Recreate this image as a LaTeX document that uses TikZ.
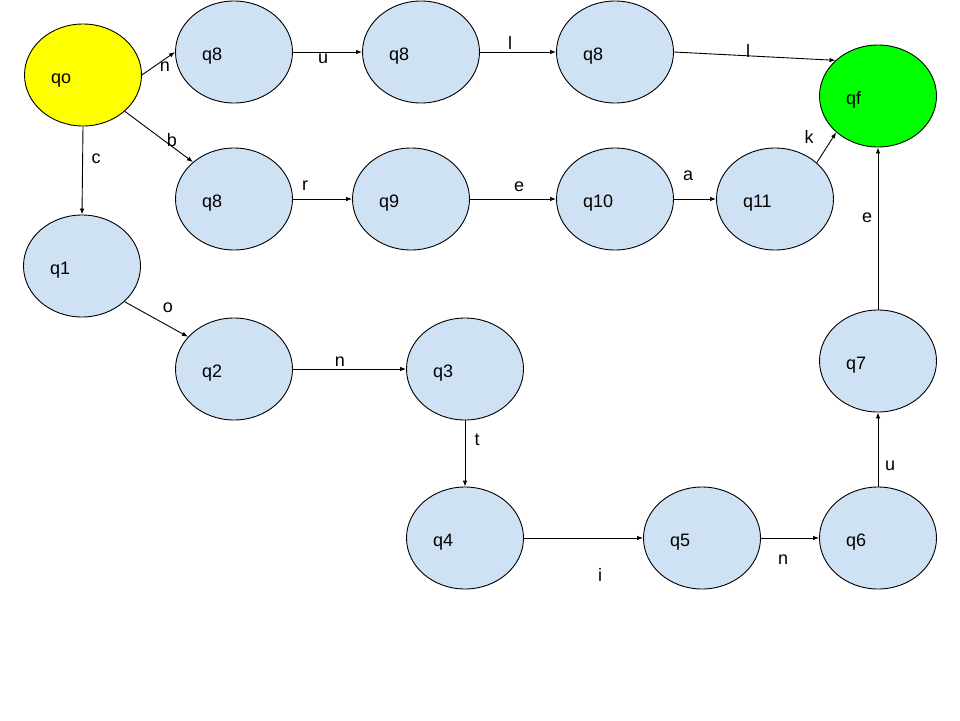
\documentclass[tikz,border=0pt]{standalone}
\usepackage{fontspec}
\setmainfont{Liberation Sans}
\usetikzlibrary{shapes.geometric,arrows.meta}
\definecolor{stblue}{HTML}{CFE2F3}
\definecolor{styellow}{HTML}{FFFF00}
\definecolor{stgreen}{HTML}{00FF00}
\newcommand\sttxt[1]{\makebox[64pt][l]{#1}}
\begin{document}
\begin{tikzpicture}[x=1pt,y=-1pt,
  st/.style={ellipse,draw=black,line width=0.9pt,fill=stblue,minimum width=117pt,minimum height=102pt,inner sep=0pt,text height=17pt,text depth=0pt,font=\fontsize{18}{21}\selectfont},
  tr/.style={draw=black,line width=0.9pt,-{Latex[length=6pt,width=4.5pt]}},
  lb/.style={font=\fontsize{18}{21}\selectfont,inner sep=0pt}]
\useasboundingbox[fill=white] (0,0) rectangle (960,720);

\node[st,fill=styellow] (qo) at (83,75) {\sttxt{qo}};
\node[st] (q8a) at (234,52) {\sttxt{q8}};
\node[st] (q8c) at (421,52) {\sttxt{q8}};
\node[st] (q8d) at (615,52) {\sttxt{q8}};
\node[st,fill=stgreen] (qf) at (878,96) {\sttxt{qf}};
\node[st] (q8b) at (234,199) {\sttxt{q8}};
\node[st] (q9) at (411,199) {\sttxt{q9}};
\node[st] (q10) at (615,199) {\sttxt{q10}};
\node[st] (q11) at (775,199) {\sttxt{q11}};
\node[st] (q1) at (82,266) {\sttxt{q1}};
\node[st] (q2) at (234,369) {\sttxt{q2}};
\node[st] (q3) at (465,369) {\sttxt{q3}};
\node[st] (q4) at (465,538) {\sttxt{q4}};
\node[st] (q5) at (702,538) {\sttxt{q5}};
\node[st] (q6) at (878,538) {\sttxt{q6}};
\node[st] (q7) at (878,361) {\sttxt{q7}};

\draw[tr] (qo.east) -- (q8a.west);
\draw[tr] (qo.-41) -- (q8b.138);
\draw[tr] (qo.south) -- (q1.north);
\draw[tr] (q8a.east) -- (q8c.west);
\draw[tr] (q8c.east) -- (q8d.west);
\draw[tr] (q8d.east) -- (qf.140);
\draw[tr] (q8b.east) -- (q9.west);
\draw[tr] (q9.east) -- (q10.west);
\draw[tr] (q10.east) -- (q11.west);
\draw[tr] (q11.41) -- (qf.-139);
\draw[tr] (q1.-40) -- (q2.145);
\draw[tr] (q2.east) -- (q3.west);
\draw[tr] (q3.south) -- (q4.north);
\draw[tr] (q4.east) -- (q5.west);
\draw[tr] (q5.east) -- (q6.west);
\draw[tr] (q6.north) -- (q7.south);
\draw[tr] (q7.north) -- (qf.south);

\node[lb] (l1) at (165,67) {n};
\node[lb] (l2) at (172,140) {b};
\node[lb] (l3) at (96,159) {c};
\node[lb] (l4) at (323,59) {u};
\node[lb] (l5) at (510,43) {l};
\node[lb] (l6) at (748,51) {l};
\node[lb] (l7) at (305,186) {r};
\node[lb] (l8) at (519,187) {e};
\node[lb] (l9) at (688,176) {a};
\node[lb] (l10) at (809,137) {k};
\node[lb] (l11) at (168,308) {o};
\node[lb] (l12) at (340,362) {n};
\node[lb] (l13) at (477,440) {t};
\node[lb] (l14) at (600,575) {i};
\node[lb] (l15) at (783,560) {n};
\node[lb] (l16) at (890,466) {u};
\node[lb] (l17) at (867,218) {e};
\end{tikzpicture}
\end{document}
